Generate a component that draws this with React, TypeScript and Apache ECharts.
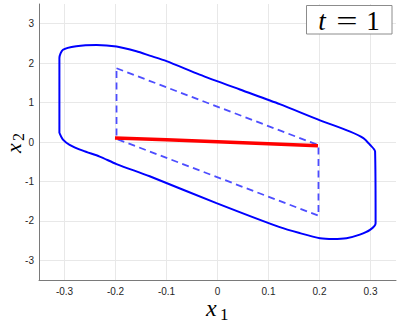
import React, { useEffect, useRef } from "react";
import * as echarts from "echarts";

// Outer reachable-set boundary (solid blue), closed
const outerX = [-0.31, -0.31, -0.303, -0.277, -0.237, -0.198, -0.159, -0.133, -0.1, -0.035, 0.044, 0.122, 0.201, 0.259, 0.286, 0.299, 0.309, 0.31, 0.299, 0.279, 0.253, 0.227, 0.201, 0.161, 0.122, -0.002, -0.133, -0.198, -0.231, -0.264, -0.29, -0.303, -0.31];
const outerY = [0.23, 2.13, 2.34, 2.43, 2.46, 2.42, 2.3, 2.19, 2.05, 1.71, 1.33, 0.96, 0.55, 0.27, 0.1, -0.07, -0.24, -2.06, -2.23, -2.35, -2.44, -2.46, -2.44, -2.31, -2.16, -1.55, -0.87, -0.56, -0.37, -0.22, -0.07, 0.06, 0.23];

// Dashed parallelogram
const boxX = [-0.198, 0.198, 0.198, -0.198, -0.198];
const boxY = [1.87, -0.08, -1.87, 0.08, 1.87];

// Red trajectory segment
const redX = [-0.201, -0.1, 0.0, 0.1, 0.197];
const redY = [0.104, 0.055, 0.005, -0.045, -0.094];

const xMin = -0.35;
const xMax = 0.35;
const yMin = -3.5;
const yMax = 3.5;

const zip = (xs: number[], ys: number[]) => xs.map((x, i) => [x, ys[i]]);

export default function App() {
  const ref = useRef<HTMLDivElement>(null);
  useEffect(() => {
    document.body.style.margin = "0";
    const chart = echarts.init(ref.current!, null, { renderer: "svg" });
    const tickFont = {
      fontFamily: "Liberation Sans",
      fontSize: 10,
      color: "#262626",
    };
    chart.setOption({
      animation: false,
      backgroundColor: "#ffffff",
      grid: { left: 39, right: 11, top: 4, bottom: 42 },
      xAxis: {
        type: "value",
        min: xMin,
        max: xMax,
        splitNumber: 7,
        axisLine: { show: true, onZero: false, lineStyle: { color: "#7a7a7a", width: 1 } },
        axisTick: { show: false },
        axisLabel: { ...tickFont, margin: 6, showMinLabel: false, showMaxLabel: false },
        splitLine: { show: true, showMinLine: false, showMaxLine: false, lineStyle: { color: "#e8e8e8", width: 1 } },
      },
      yAxis: {
        type: "value",
        min: yMin,
        max: yMax,
        splitNumber: 7,
        axisLine: { show: true, onZero: false, lineStyle: { color: "#7a7a7a", width: 1 } },
        axisTick: { show: false },
        axisLabel: { ...tickFont, margin: 5, showMinLabel: false, showMaxLabel: false },
        splitLine: { show: true, showMinLine: false, showMaxLine: false, lineStyle: { color: "#e8e8e8", width: 1 } },
      },
      series: [
        {
          type: "line",
          data: zip(outerX, outerY),
          showSymbol: false,
          symbol: "none",
          smooth: 0.25,
          lineStyle: { color: "#0000ff", width: 2 },
          z: 2,
        },
        {
          type: "line",
          data: zip(boxX, boxY),
          showSymbol: false,
          symbol: "none",
          lineStyle: { color: "#4d4dff", width: 1.8, type: [7, 4.5] },
          z: 3,
        },
        {
          type: "line",
          data: zip(redX, redY),
          showSymbol: false,
          symbol: "none",
          lineStyle: { color: "#ff0000", width: 3.5 },
          z: 4,
        },
      ],
      graphic: [
        {
          type: "rect",
          shape: { x: 306.5, y: 5.5, width: 85.5, height: 28.5 },
          style: { fill: "#ffffff", stroke: "#8c8c8c", lineWidth: 1 },
          z: 10,
        },
        {
          type: "text",
          x: 322,
          y: 21,
          style: { text: "t", font: "italic 27px 'Liberation Serif'", fill: "#000", align: "center", verticalAlign: "middle" },
          z: 11,
        },
        {
          type: "text",
          x: 347,
          y: 21,
          scaleX: 1.4,
          style: { text: "=", font: "27px 'Liberation Serif'", fill: "#000", align: "center", verticalAlign: "middle" },
          z: 11,
        },
        {
          type: "text",
          x: 373,
          y: 21,
          style: { text: "1", font: "27px 'Liberation Serif'", fill: "#000", align: "center", verticalAlign: "middle" },
          z: 11,
        },
        {
          type: "text",
          x: 206,
          y: 308,
          style: { text: "x", font: "italic 24px 'Liberation Serif'", fill: "#000", align: "left", verticalAlign: "middle", lineHeight: 16 },
        },
        {
          type: "text",
          x: 220,
          y: 314,
          style: { text: "1", font: "17px 'Liberation Serif'", fill: "#000", align: "left", verticalAlign: "middle", lineHeight: 14 },
        },
        {
          type: "group",
          x: 15,
          y: 153,
          rotation: Math.PI / 2,
          children: [
            {
              type: "text",
              x: 0,
              y: -2,
              style: { text: "x", font: "italic 22px 'Liberation Serif'", fill: "#000", align: "left", verticalAlign: "middle", lineHeight: 15 },
            },
            {
              type: "text",
              x: 12,
              y: 3,
              style: { text: "2", font: "16px 'Liberation Serif'", fill: "#000", align: "left", verticalAlign: "middle", lineHeight: 13 },
            },
          ],
        },
      ],
    });
    return () => chart.dispose();
  }, []);
  return <div ref={ref} style={{ width: 407, height: 322 }} />;
}
